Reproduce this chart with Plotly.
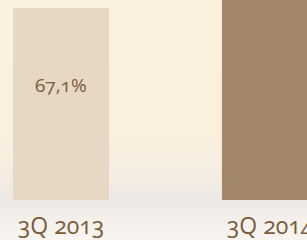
import plotly.graph_objects as go

categories = ["3Q 2013", "3Q 2014"]
values = [67.1, 72.4]
labels = ["67,1%", ""]
bar_colors = ["#E7D8C6", "#A2876A"]

ONUM = "<span style='font-variant-numeric:oldstyle-nums;font-feature-settings:\"onum\" 1'>%s</span>"

fig = go.Figure()
fig.add_trace(go.Bar(
    x=categories, y=values, width=0.46,
    marker=dict(color=bar_colors, line=dict(width=0)),
    hoverinfo="skip",
))

for c, v, t in zip(categories, values, labels):
    if t:
        fig.add_annotation(x=c, y=v, text=ONUM % t, showarrow=False, yanchor="top",
                           yshift=-62, font=dict(family="Open Sans", size=19, color="#7B5B3B"))

def lerp(a, b, t):
    return tuple(round(a[i] + (b[i] - a[i]) * t) for i in range(3))

stops = [(0.0, (252, 241, 222)), (0.55, (251, 240, 222)), (0.75, (244, 237, 227)),
         (0.83, (236, 232, 228)), (0.9, (242, 239, 235)), (1.0, (249, 246, 241))]
n = 60
shapes = []
for i in range(n):
    f0 = i / n
    f1 = (i + 1) / n
    fm = (f0 + f1) / 2
    for j in range(len(stops) - 1):
        if stops[j][0] <= fm <= stops[j + 1][0]:
            t = (fm - stops[j][0]) / (stops[j + 1][0] - stops[j][0])
            col = lerp(stops[j][1], stops[j + 1][1], t)
            break
    y_top = 1 - f0 * 240 / 200
    y_bot = 1 - f1 * 240 / 200
    shapes.append(dict(type="rect", xref="paper", yref="paper", x0=-0.01, x1=1.01,
                       y0=y_bot - 0.002, y1=y_top, layer="below",
                       fillcolor="rgb(%d,%d,%d)" % col, line=dict(width=0)))

fig.update_layout(
    width=307, height=240,
    margin=dict(l=0, r=0, t=0, b=40, autoexpand=False),
    paper_bgcolor="#FBF0DE", plot_bgcolor="rgba(0,0,0,0)",
    shapes=shapes, showlegend=False,
    xaxis=dict(range=[-0.2919, 1.177], showgrid=False, zeroline=False, showline=False,
               ticks="", ticklabelstandoff=10, automargin=False,
               tickvals=categories, ticktext=[ONUM % c for c in categories],
               tickfont=dict(family="Open Sans", size=23, color="#7B5B3B")),
    yaxis=dict(range=[0, 69.9], visible=False, showgrid=False, zeroline=False),
)

fig.write_html("out.html", config={"displayModeBar": False},
               post_script="document.body.style.margin='0';document.body.style.overflow='hidden';")
